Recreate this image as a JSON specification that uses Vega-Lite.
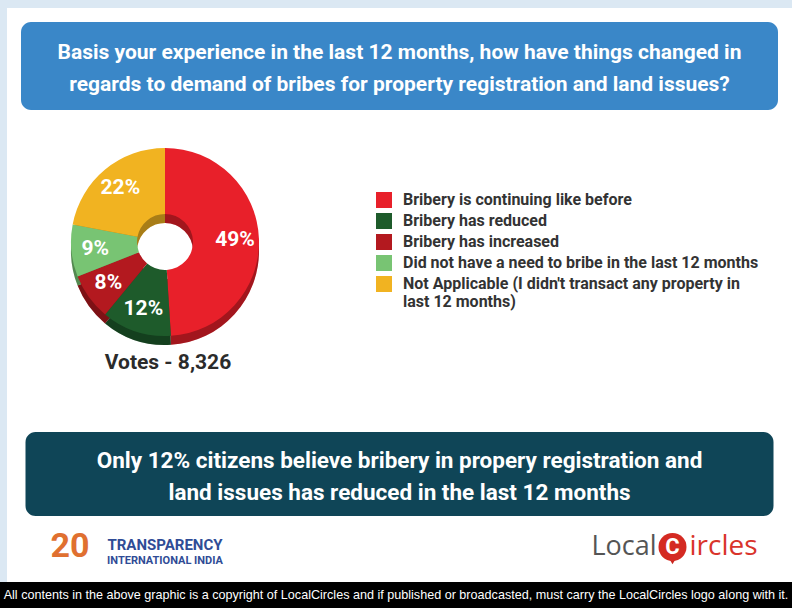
{
  "$schema": "https://vega.github.io/schema/vega-lite/v6.json",
  "padding": 0,
  "background": "white",
  "spacing": 0,
  "config": {"view": {"stroke": null}},
  "vconcat": [
    {
      "spacing": 0,
      "hconcat": [
        {"width": 7, "height": 582, "data": {"values": []}, "mark": "point", "view": {"fill": "#dbe8f3", "stroke": null}},
        {
          "spacing": 14,
          "center": true,
          "vconcat": [
            {"width": 785, "height": 8, "data": {"values": []}, "mark": "point", "view": {"fill": "#dbe8f3", "stroke": null}},
            {
              "width": 757, "height": 88,
              "view": {"fill": "#3a87c8", "cornerRadius": 10, "stroke": null},
              "data": {"values": [{"q": ["Basis your experience in the last 12 months, how have things changed in", "regards to demand of bribes for property registration and land issues?"]}]},
              "mark": {"type": "text", "font": "Roboto, sans-serif", "fontSize": 21, "fontWeight": "bold", "color": "white", "lineHeight": 32, "align": "center", "baseline": "middle", "dy": -13},
              "encoding": {"text": {"field": "q"}}
            },
            {
              "spacing": 0,
              "resolve": {"scale": {"color": "independent"}, "legend": {"color": "independent"}},
              "hconcat": [
                {
                  "width": 316, "height": 236,
                  "title": {"text": "Votes - 8,326", "orient": "bottom", "anchor": "middle", "offset": -8, "dx": 3, "fontSize": 21, "fontWeight": "bold", "color": "#2b2b2b", "font": "Roboto, sans-serif"},
                  "data": {"values": [
                    {"answer": "Bribery is continuing like before", "share": 0.49, "idx": 1},
                    {"answer": "Bribery has reduced", "share": 0.12, "idx": 2},
                    {"answer": "Bribery has increased", "share": 0.08, "idx": 3},
                    {"answer": "Did not have a need to bribe in the last 12 months", "share": 0.09, "idx": 4},
                    {"answer": "Not Applicable (I didn't transact any property in last 12 months)", "share": 0.22, "idx": 5}
                  ]},
                  "encoding": {
                    "theta": {"field": "share", "type": "quantitative", "stack": true},
                    "order": {"field": "idx", "type": "quantitative"},
                    "color": {
                      "field": "answer", "type": "nominal",
                      "scale": {
                        "domain": ["Bribery is continuing like before", "Bribery has reduced", "Bribery has increased", "Did not have a need to bribe in the last 12 months", "Not Applicable (I didn't transact any property in last 12 months)"],
                        "range": ["#e8202a", "#1e5b2b", "#b3191f", "#78c473", "#f1b321"]
                      },
                      "legend": null
                    }
                  },
                  "layer": [
                    {"mark": {"type": "arc", "outerRadius": 94, "innerRadius": 28, "yOffset": 9}},
                    {"mark": {"type": "arc", "outerRadius": 94, "innerRadius": 28, "yOffset": 9, "fill": "#000000", "fillOpacity": 0.3}},
                    {"mark": {"type": "arc", "outerRadius": 94, "innerRadius": 28}},
                    {
                      "mark": {"type": "text", "radius": 70, "font": "Roboto, sans-serif", "fontSize": 21, "fontWeight": "bold", "align": "center", "baseline": "middle"},
                      "encoding": {"text": {"field": "share", "type": "quantitative", "format": ".0%"}, "color": {"value": "white"}}
                    }
                  ]
                },
                {
                  "width": 469, "height": 294,
                  "data": {"values": [
                    {"answer": "Bribery is continuing like before"},
                    {"answer": "Bribery has reduced"},
                    {"answer": "Bribery has increased"},
                    {"answer": "Did not have a need to bribe in the last 12 months"},
                    {"answer": "Not Applicable (I didn't transact any property in last 12 months)"}
                  ]},
                  "mark": {"type": "point", "filled": true, "size": 0, "shape": "square"},
                  "encoding": {
                    "color": {
                      "field": "answer", "type": "nominal",
                      "scale": {
                        "domain": ["Bribery is continuing like before", "Bribery has reduced", "Bribery has increased", "Did not have a need to bribe in the last 12 months", "Not Applicable (I didn't transact any property in last 12 months)"],
                        "range": ["#e8202a", "#1e5b2b", "#b3191f", "#78c473", "#f1b321"]
                      },
                      "legend": {
                        "title": null, "orient": "none", "legendX": 53, "legendY": 68,
                        "symbolType": "square", "symbolSize": 256, "symbolStrokeWidth": 0, "symbolOpacity": 1,
                        "labelFont": "Roboto, sans-serif",
                        "labelFontSize": 16, "labelFontWeight": "bold", "labelColor": "#333333",
                        "labelLimit": 0, "rowPadding": 5, "labelOffset": 11,
                        "labelExpr": "substring(datum.label, 0, 14) == 'Not Applicable' ? [\"Not Applicable (I didn't transact any property in\", \"last 12 months)\"] : datum.label"
                      }
                    }
                  }
                }
              ]
            },
            {
              "width": 748, "height": 84,
              "view": {"fill": "#0f4557", "cornerRadius": 10, "stroke": null},
              "data": {"values": [{"q": ["Only 12% citizens believe bribery in propery registration and", "land issues has reduced in the last 12 months"]}]},
              "mark": {"type": "text", "font": "Roboto, sans-serif", "fontSize": 22.5, "fontWeight": "bold", "color": "white", "lineHeight": 32, "align": "center", "baseline": "middle", "dy": -13},
              "encoding": {"text": {"field": "q"}}
            },
            {
              "spacing": 0,
              "hconcat": [
                {"width": 41, "height": 32, "data": {"values": []}, "mark": "point"},
                {
                  "width": 50, "height": 32,
                  "data": {"values": [{"t": "20"}]},
                  "mark": {"type": "text", "font": "Roboto, sans-serif", "fontSize": 34, "fontWeight": "bold", "color": "#e07030", "align": "center", "baseline": "middle", "dx": -3},
                  "encoding": {"text": {"field": "t"}}
                },
                {
                  "width": 134, "height": 32,
                  "data": {"values": [{"a": "TRANSPARENCY", "b": "INTERNATIONAL INDIA"}]},
                  "layer": [
                    {"mark": {"type": "text", "font": "Roboto, sans-serif", "fontSize": 15, "fontWeight": "bold", "color": "#2f4c96", "align": "center", "baseline": "middle", "dy": -2}, "encoding": {"text": {"field": "a"}}},
                    {"mark": {"type": "text", "font": "Roboto, sans-serif", "fontSize": 11, "fontWeight": "bold", "color": "#2f4c96", "align": "center", "baseline": "middle", "dy": 14}, "encoding": {"text": {"field": "b"}}}
                  ]
                },
                {"width": 355, "height": 32, "data": {"values": []}, "mark": "point"},
                {
                  "width": 185, "height": 32,
                  "data": {"values": [{"a": "Local", "c": "C", "b": "ircles"}]},
                  "layer": [
                    {"mark": {"type": "text", "font": "'Open Sans', sans-serif", "fontSize": 27, "color": "#555555", "align": "right", "baseline": "middle", "dx": -23}, "encoding": {"text": {"field": "a"}}},
                    {"mark": {"type": "point", "shape": "triangle-down", "filled": true, "size": 60, "color": "#c8261f", "opacity": 1, "xOffset": -7, "yOffset": 14}},
                    {"mark": {"type": "point", "shape": "circle", "filled": true, "size": 784, "color": "#d42a22", "opacity": 1, "xOffset": -7}},
                    {"mark": {"type": "text", "font": "Roboto, sans-serif", "fontSize": 22, "fontWeight": "bold", "color": "white", "align": "center", "baseline": "middle", "dx": -7}, "encoding": {"text": {"field": "c"}}},
                    {"mark": {"type": "text", "font": "'Open Sans', sans-serif", "fontSize": 28, "color": "#d9342b", "align": "left", "baseline": "middle", "dx": 10}, "encoding": {"text": {"field": "b"}}}
                  ]
                },
                {"width": 20, "height": 32, "data": {"values": []}, "mark": "point"}
              ]
            }
          ]
        }
      ]
    },
    {
      "width": 792, "height": 26,
      "view": {"fill": "#000000", "stroke": null},
      "data": {"values": [{"t": "All contents in the above graphic is a copyright of LocalCircles and if published or broadcasted, must carry the LocalCircles logo along with it."}]},
      "mark": {"type": "text", "font": "'Liberation Sans', sans-serif", "fontSize": 12.6, "color": "white", "align": "center", "baseline": "middle"},
      "encoding": {"text": {"field": "t"}}
    }
  ]
}
